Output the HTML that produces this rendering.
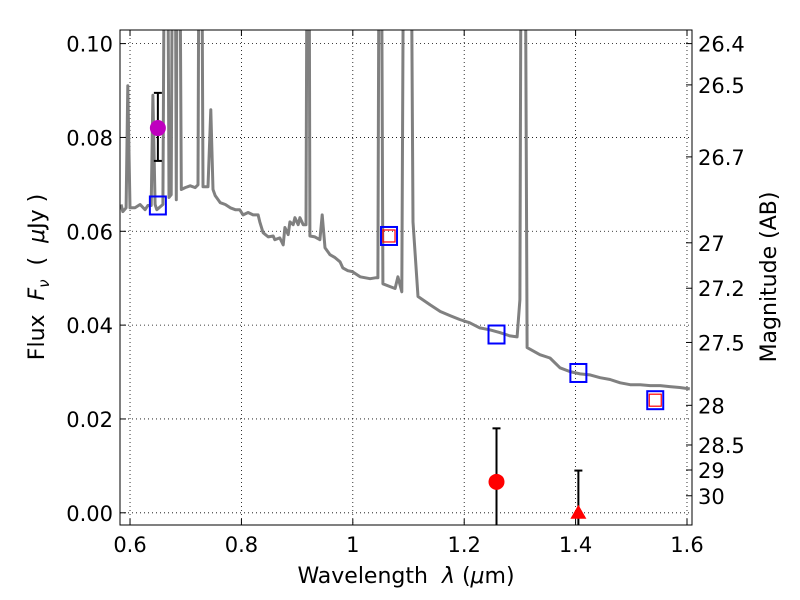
<!DOCTYPE html>
<html><head><meta charset="utf-8"><style>
html,body{margin:0;padding:0;background:#fff}
svg{display:block;font-family:"DejaVu Sans","Liberation Sans",sans-serif}
</style></head><body>
<svg id="chart" width="800" height="600" viewBox="0 0 800 600">
<defs><clipPath id="clip"><rect x="120" y="30" width="572" height="495"/></clipPath></defs>
<g id="grid"></g>
<g id="marks" clip-path="url(#clip)"></g>
<rect x="120" y="30" width="572" height="495" fill="none" stroke="#000" stroke-width="1"/>
<g id="axes"></g>
<text x="406" y="583" font-size="22" text-anchor="middle" xml:space="preserve">Wavelength  <tspan font-style="italic">λ</tspan> (<tspan font-style="italic">μ</tspan>m)</text>
<text transform="translate(44,277) rotate(-90)" font-size="22" text-anchor="middle" xml:space="preserve">Flux  <tspan font-style="italic">F</tspan><tspan font-style="italic" font-size="15" dy="5">ν</tspan><tspan dy="-5">  (  </tspan><tspan font-style="italic">μ</tspan>Jy )</text>
<text transform="translate(776,277) rotate(-90)" font-size="22" text-anchor="middle">Magnitude (AB)</text>
</svg>
<script>
const specLam=[0.584,0.587,0.593,0.596,0.600,0.609,0.618,0.627,0.632,0.638,0.641,0.645,0.648,0.659,0.665,0.670,0.674,0.679,0.683,0.686,0.692,0.699,0.708,0.717,0.722,0.726,0.731,0.740,0.745,0.749,0.753,0.762,0.771,0.780,0.789,0.797,0.803,0.812,0.821,0.830,0.833,0.839,0.848,0.857,0.860,0.869,0.875,0.878,0.884,0.887,0.893,0.896,0.902,0.905,0.911,0.916,0.920,0.923,0.932,0.941,0.945,0.950,0.959,0.968,0.977,0.982,0.991,0.999,1.013,1.031,1.042,1.045,1.049,1.054,1.067,1.076,1.081,1.088,1.094,1.101,1.108,1.117,1.139,1.157,1.175,1.192,1.210,1.228,1.246,1.264,1.282,1.295,1.300,1.304,1.307,1.313,1.336,1.354,1.372,1.390,1.408,1.426,1.444,1.462,1.480,1.498,1.516,1.534,1.552,1.569,1.587,1.605];
const specFlux=[0.0657,0.0642,0.065,0.091,0.065,0.065,0.0657,0.0646,0.0655,0.0655,0.089,0.0657,0.0646,0.0657,0.2,0.0672,0.0678,0.2,0.0667,0.2,0.0689,0.0693,0.0697,0.0693,0.0699,0.2,0.0695,0.0695,0.0859,0.0689,0.0676,0.0661,0.0657,0.065,0.0646,0.0646,0.0635,0.064,0.0635,0.0635,0.062,0.0597,0.0588,0.059,0.0582,0.0586,0.0571,0.0608,0.0593,0.062,0.0614,0.0629,0.0614,0.0629,0.0614,0.0614,0.2,0.059,0.0588,0.0582,0.0635,0.0565,0.055,0.0544,0.0535,0.0522,0.0516,0.0514,0.0503,0.0499,0.0501,0.0501,0.2,0.0488,0.0482,0.0478,0.0503,0.0471,0.2,0.2,0.062,0.0461,0.0443,0.0429,0.042,0.0412,0.0405,0.0394,0.039,0.0384,0.0377,0.0375,0.0454,0.2,0.2,0.0352,0.0337,0.033,0.0309,0.0301,0.0296,0.0294,0.0288,0.0284,0.0277,0.0273,0.0273,0.0271,0.0271,0.0269,0.0267,0.0264];
const modelLam=[0.65,1.065,1.258,1.405,1.543];
const modelFlux=[0.0655,0.059,0.038,0.0298,0.024];
const redSqLam=[1.065,1.543];
const redSqFlux=[0.059,0.024];
const obsLam=[0.65,1.258];
const obsFlux=[0.082,0.0066];
const obsLo=[0.075,-0.01];
const obsHi=[0.0895,0.018];
const obsColor=['#bf00bf','#ff0000'];
const limLam=[1.405];
const limFlux=[0.0];
const limHi=[0.009];
const xTicks=[0.6,0.8,1.0,1.2,1.4,1.6];
const xTickLabels=['0.6','0.8','1','1.2','1.4','1.6'];
const yTicks=[0,0.02,0.04,0.06,0.08,0.10];
const yTickLabels=['0.00','0.02','0.04','0.06','0.08','0.10'];
const magTicks=[26.4,26.5,26.7,27,27.2,27.5,28,28.5,29,30];
const magTickLabels=['26.4','26.5','26.7','27','27.2','27.5','28','28.5','29','30'];

const X0=120,X1=692,Y0=525,Y1=30,xmin=0.582,xmax=1.609,ymin=-0.0026,ymax=0.1029;
const sx=v=>X0+(v-xmin)/(xmax-xmin)*(X1-X0);
const sy=v=>Y0-(v-ymin)/(ymax-ymin)*(Y0-Y1);
const NS='http://www.w3.org/2000/svg';
function mk(tag,attrs,parent){const e=document.createElementNS(NS,tag);for(const k in attrs)e.setAttribute(k,attrs[k]);parent.appendChild(e);return e;}
const grid=document.getElementById('grid'),marks=document.getElementById('marks'),axes=document.getElementById('axes');

xTicks.forEach((t,i)=>{
  const x=sx(t);
  const g=mk('line',{x1:x,x2:x,y1:Y1,y2:Y0,stroke:'#000','stroke-dasharray':'1,3','stroke-width':0.8},grid);
  
  
  const a=mk('line',{x1:x,x2:x,y1:Y0,y2:Y0-6,stroke:'#000'},axes);
  
  
  const b=mk('line',{x1:x,x2:x,y1:Y1,y2:Y1+6,stroke:'#000'},axes);
  
  
  const tx=mk('text',{x:x,y:552,'font-size':21,'text-anchor':'middle'},axes);
  tx.textContent=xTickLabels[i];
  
  
});
yTicks.forEach((t,i)=>{
  const y=sy(t);
  const g=mk('line',{x1:X0,x2:X1,y1:y,y2:y,stroke:'#000','stroke-dasharray':'1,3','stroke-width':0.8},grid);
  
  
  const a=mk('line',{x1:X0,x2:X0+6,y1:y,y2:y,stroke:'#000'},axes);
  
  
  const tx=mk('text',{x:113,y:y+8,'font-size':21,'text-anchor':'end'},axes);
  tx.textContent=yTickLabels[i];
  
  
});
magTicks.forEach((m,i)=>{
  const y=sy(Math.pow(10,(23.9-m)/2.5));
  const a=mk('line',{x1:X1,x2:X1-6,y1:y,y2:y,stroke:'#000'},axes);
  
  
  const tx=mk('text',{x:698,y:y+8,'font-size':21},axes);
  tx.textContent=magTickLabels[i];
  
  
});

const pts=specLam.map((l,i)=>sx(l).toFixed(1)+','+sy(specFlux[i]).toFixed(1)).join(' ');
const sp=mk('polyline',{points:pts,fill:'none',stroke:'#808080','stroke-width':3,'stroke-linejoin':'round'},marks);



modelLam.forEach((l,i)=>{
  const r=mk('rect',{x:sx(l)-8,y:sy(modelFlux[i])-9,width:16,height:18,fill:'none',stroke:'#0000ff','stroke-width':2},marks);
  
  
});
redSqLam.forEach((l,i)=>{
  const r=mk('rect',{x:sx(l)-6,y:sy(redSqFlux[i])-6,width:12,height:12,fill:'none',stroke:'#ff0000','stroke-width':1.2},marks);
  
  
});
obsLam.forEach((l,i)=>{
  const x=sx(l);
  const e=mk('line',{x1:x,x2:x,y1:sy(obsLo[i]),y2:sy(obsHi[i]),stroke:'#000','stroke-width':2},marks);
  
  
  [obsLo[i],obsHi[i]].forEach(v=>{
    const c=mk('line',{x1:x-4,x2:x+4,y1:sy(v),y2:sy(v),stroke:'#000','stroke-width':2},marks);
    
    
  });
  const c=mk('circle',{cx:x,cy:sy(obsFlux[i]),r:8,fill:obsColor[i]},marks);
  
  
});
limLam.forEach((l,i)=>{
  const x=sx(l),y=sy(limFlux[i]);
  const e=mk('line',{x1:x,x2:x,y1:Y0+5,y2:sy(limHi[i]),stroke:'#000','stroke-width':2},marks);
  
  
  const c=mk('line',{x1:x-4,x2:x+4,y1:sy(limHi[i]),y2:sy(limHi[i]),stroke:'#000','stroke-width':2},marks);
  
  
  const t=mk('polygon',{points:`${x},${y-8} ${x-8},${y+6} ${x+8},${y+6}`,fill:'#ff0000'},marks);
  
  
});
</script>
</body></html>
